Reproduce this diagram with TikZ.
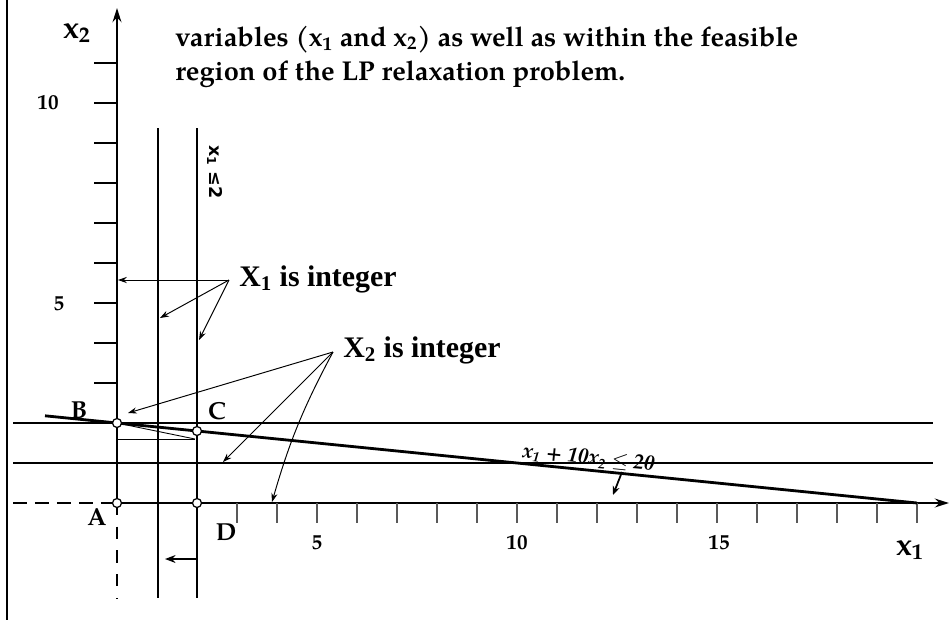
\documentclass[tikz,border=0pt]{standalone}
\usepackage{fontspec}
\setmainfont{TeX Gyre Pagella}
\newfontfamily\tnr{Liberation Serif}
\newfontfamily\djv{DejaVu Sans}
\usetikzlibrary{arrows.meta}
\begin{document}
\begin{tikzpicture}[x=0.02cm,y=-0.02cm,
  ax/.style={line width=1.3pt},
  gridln/.style={line width=1.35pt},
  thinln/.style={line width=0.5pt},
  ptn/.style={circle,draw,fill=white,line width=0.7pt,inner sep=0pt,minimum size=0.18cm},
  ticklbl/.style={font=\fontsize{12}{14}\selectfont\bfseries},
  ptlbl/.style={font=\fontsize{14}{16}\selectfont\bfseries},
  axlbl/.style={font=\fontsize{18}{21}\selectfont\bfseries},
  callout/.style={font=\tnr\fontsize{17}{20}\selectfont\bfseries},
  titlefont/.style={font=\fontsize{15.5}{19}\selectfont\bfseries},
  ptr/.style={line width=0.55pt,-{Stealth[length=5pt,width=3.5pt]}},
  ytk/.style={line width=0.9pt},
  xtk/.style={line width=0.9pt,draw=black!65},
  hdash/.style={dash pattern=on 8pt off 4.5pt},
  vdash/.style={dash pattern=on 7pt off 6.5pt}
]
\useasboundingbox (0,0) rectangle (951,620);

% left border
\draw[line width=1.7pt] (7,0) -- (7,620);

% title (two visible lines)
\node[titlefont,anchor=base west,inner sep=0pt] (title1) at (175,46)
  {variables (x\textsubscript{1} and x\textsubscript{2}) as well as within the feasible};
\node[titlefont,anchor=base west,inner sep=0pt] (title2) at (175,80)
  {region of the LP relaxation problem.};

% coordinates
\coordinate (O) at (117,503);
\coordinate (ytop) at (117,8);
\coordinate (ybot) at (117,598);
\coordinate (xleft) at (13,503);
\coordinate (xright) at (949,503);

% grid lines x1=1, x1=2, x2=1, x2=2
\draw[gridln] (158,128) -- (158,598);
\draw[gridln] (197,128) -- (197,598);
\draw[gridln] (13,423) -- (933,423);
\draw[gridln] (13,463) -- (933,463);

% axes
\draw[ax,-{Stealth[length=8pt,width=5pt]}] (O) -- (ytop);
\draw[ax,vdash] (O) -- (ybot);
\draw[ax,hdash] (xleft) -- (O);
\draw[ax,-{Stealth[length=8pt,width=5pt]}] (O) -- (xright);

% ticks
\foreach \k in {3,...,11} \draw[ytk] (94,{503-40*\k}) -- (117,{503-40*\k});
\foreach \k in {3,...,20} \draw[xtk] ({117+40*\k},503) -- ({117+40*\k},523);

% tick labels
\node[ticklbl] (ty10) at (48,103) {10};
\node[ticklbl] (ty5) at (59,304) {5};
\node[ticklbl] (tx5) at (317,543) {5};
\node[ticklbl] (tx10) at (517,543) {10};
\node[ticklbl] (tx15) at (719,543) {15};

% axis labels
\node[axlbl] (lx2) at (77,33) {x\textsubscript{2}};
\node[axlbl] (lx1) at (910,550) {x\textsubscript{1}};

% constraint line x1 + 10 x2 = 20
\coordinate (cl1) at (45,415.8);
\coordinate (cl2) at (917,503);
\draw[line width=1.6pt] (cl1) -- (cl2);
\node[font=\bfseries\itshape\fontsize{12}{14}\selectfont,rotate=-5.7,anchor=base,inner sep=0pt] (clbl) at (588,464)
  {x\textsubscript{1} + 10x\textsubscript{2} $\le$ 20};
\coordinate (fa) at (622,472);
\coordinate (fb) at (613,495);
\draw[line width=1pt,-{Stealth[length=5pt,width=4pt]}] (fa) -- (fb);

% thin rounding triangle under B-C
\coordinate (t1) at (195,439);
\coordinate (t2) at (117,439);
\draw[thinln] (117,423) -- (t1);
\draw[thinln] (t2) -- (t1);

% x1 <= 2 label
\node[font=\djv\bfseries\fontsize{10}{12}\selectfont,rotate=-90] (x1le) at (215,172) {x\textsubscript{1} ≤2};

% bottom arrow on x1 <= 2
\coordinate (ba1) at (197,559);
\coordinate (ba2) at (165,559);
\draw[line width=1.2pt,-{Stealth[length=6pt,width=4.5pt]}] (ba1) -- (ba2);

% points
\node[ptn] (A) at (117,503) {};
\node[ptn] (B) at (117,423) {};
\node[ptn] (C) at (197,431) {};
\node[ptn] (D) at (197,503) {};
\node[ptlbl] (lA) at (97,517) {A};
\node[ptlbl] (lB) at (79,410) {B};
\node[ptlbl] (lC) at (217,411) {C};
\node[ptlbl] (lD) at (226,532) {D};

% callouts
\node[callout,anchor=west,inner sep=0pt] (X1) at (239,279) {X\textsubscript{1} is integer};
\coordinate (x1s) at (229,280);
\coordinate (x1a) at (118,280);
\coordinate (x1b) at (160,318);
\coordinate (x1c) at (199,340);
\draw[ptr] (x1s) -- (x1a);
\draw[ptr] (x1s) -- (x1b);
\draw[ptr] (x1s) -- (x1c);

\node[callout,anchor=west,inner sep=0pt] (X2) at (343,350) {X\textsubscript{2} is integer};
\coordinate (x2s) at (333,352);
\coordinate (x2a) at (128,413);
\coordinate (x2b) at (223,462);
\coordinate (x2c) at (272,502);
\draw[ptr] (x2s) -- (x2a);
\draw[ptr] (x2s) -- (x2b);
\draw[ptr] (x2s) to[bend right=6] (x2c);
\end{tikzpicture}
\end{document}
